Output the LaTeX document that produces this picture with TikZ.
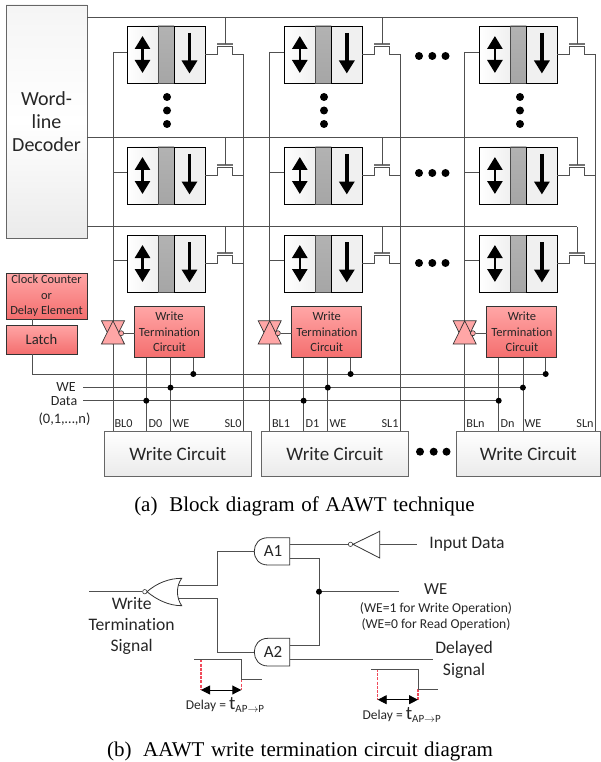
\documentclass[tikz,border=0pt]{standalone}
\usepackage{fontspec}
\setmainfont[Ligatures=NoCommon]{Carlito}
\newfontfamily\capfont{Liberation Serif}
\usetikzlibrary{arrows.meta, positioning, calc}
\definecolor{wireGray}{HTML}{505050}
\definecolor{pinkTop}{HTML}{FFA6A6}
\definecolor{pinkBot}{HTML}{F46E6E}
\definecolor{dashRed}{HTML}{F04A5A}
\tikzset{
    >=Stealth,
    % Colors
    compPink/.style={draw=black!80, line width=0.9pt, top color=pinkTop, bottom color=pinkBot},
    compWhite/.style={draw=black!60, line width=0.9pt, top color=white, bottom color=black!8},
    % Shapes
    base/.style={rectangle, inner sep=0pt, outer sep=0pt, align=center, text=black!85},
    cellL/.style={base, draw=black, line width=0.8pt, left color=white, right color=black!6,
                  minimum width=31pt, minimum height=57pt},
    cellM/.style={base, draw=black!70, line width=0.8pt, top color=black!30, bottom color=black!35,
                  minimum width=16pt, minimum height=57pt},
    cellR/.style={base, draw=black, line width=0.8pt, fill=black!6,
                  minimum width=31pt, minimum height=57pt},
    wtc/.style={base, compPink, minimum width=70pt, minimum height=51pt, font=\fontsize{12.5}{15.5}\selectfont},
    wc/.style={base, compWhite, minimum height=45.5pt, font=\fontsize{19}{22}\selectfont},
    gatebody/.style={draw=black!80, line width=0.8pt, fill=white},
    tgate/.style={draw=black!80, line width=0.7pt, fill=pinkTop},
    bubble/.style={circle, draw=black!80, line width=0.6pt, inner sep=0pt, minimum size=5pt},
    % Flow & Labels
    wire/.style={draw=wireGray, line width=0.8pt},
    bigdot/.style={circle, fill=black, inner sep=0pt, minimum size=8pt},
    junc/.style={circle, fill=black, inner sep=0pt, minimum size=6pt},
    sarrow/.style={line width=3.6pt, -{Triangle[width=15pt,length=13pt]}},
    darrow/.style={line width=2.6pt, {Triangle[width=15pt,length=13pt]}-{Triangle[width=15pt,length=13pt]}},
    delayarrow/.style={line width=0.9pt, {Triangle[width=9pt,length=9pt]}-{Triangle[width=9pt,length=9pt]}},
    reddash/.style={draw=dashRed, line width=1.3pt, dash pattern=on 3pt off 1.2pt},
    captext/.style={rectangle, inner sep=0pt, outer sep=0pt, font=\fontsize{21}{23}\capfont, text=black},
    lbl/.style={base, font=\fontsize{12.2}{14}\selectfont},
    big/.style={base, font=\fontsize{17.6}{22}\selectfont},
    note/.style={base, font=\fontsize{13.6}{16}\selectfont}
}
\newcommand{\delaytext}{\fontsize{13.5}{15}\selectfont Delay = {\fontsize{19}{20}\selectfont t}\raisebox{-3pt}{\fontsize{11}{11}\selectfont AP$\rightarrow$P}}
\newcommand{\capgap}{\hspace{0.31em}}
\begin{document}
\begin{tikzpicture}[x=1pt, y=-1pt]
\useasboundingbox (0,0) rectangle (600,762);

% Decoder and delay blocks
\node[base, compWhite, top color=black!4, bottom color=black!8, middle color=white, minimum width=81pt, minimum height=233pt, font=\fontsize{20}{23}\selectfont] (dec) at (46.5,121.5) {Word-\\line\\Decoder};
\node[base, compPink, minimum width=81pt, minimum height=46pt, font=\fontsize{12.4}{15.5}\selectfont] (clk) at (46.5,296) {Clock Counter\\or\\Delay Element};
\node[base, compPink, minimum width=71pt, minimum height=29pt, font=\fontsize{14.6}{16}\selectfont] (latch) at (41.5,339.5) {Latch};
\draw[wire] (clk.south -| 32,0) -- (latch.north -| 32,0);

% Word lines
\foreach \r/\wy in {0/17, 1/137, 2/226.5}
    \coordinate (wl\r) at (dec.east |- 0,\wy);

% Write circuits and bottom control lines
\node[wc, minimum width=146.5pt] (wc0) at (177.8,453.8) {Write Circuit};
\node[wc, minimum width=146.5pt] (wc1) at (334.8,453.8) {Write Circuit};
\node[wc, minimum width=143.3pt] (wc2) at (528.4,453.8) {Write Circuit};

\coordinate (latchturn) at (32,374);
\coordinate (weIn) at (83,387.6);
\coordinate (dataIn) at (83,400.7);

\draw[wire] (latch.south -| latchturn) -- (latchturn) -- (545.7,374);
\draw[wire] (weIn) -- (522.7,387.6);
\draw[wire] (dataIn) -- (499,400.7);

% One column of cells
\foreach \c/\cx/\blx/\slx in {0/127/113/243, 1/284.3/269.7/400.7, 2/479.4/464.7/595.7} {
    \foreach \r/\ry/\bly in {0/26/52, 1/147/172.5, 2/235/260.3} {
        \node[cellL, anchor=north west] (left\c\r) at (\cx,\ry) {};
        \node[cellM, right=0pt of left\c\r] (mid\c\r) {};
        \node[cellR, right=0pt of mid\c\r] (right\c\r) {};
        \draw[darrow] ([yshift=18.5pt]left\c\r.center) -- ([yshift=-18.5pt]left\c\r.center);
        \draw[sarrow] ([yshift=21.5pt]right\c\r.center) -- ([yshift=-19pt]right\c\r.center);
        % access transistor
        \coordinate (gate\c\r) at ($(right\c\r.north east)+(20,18)$);
        \draw[wire] (right\c\r.east) -- ++(12,0) -- ++(0,-8) -- ++(15,0) -- ++(0,8) -- (\slx,0 |- right\c\r.east);
        \draw[draw=black!55, line width=1.1pt] ($(gate\c\r)+(-8,0)$) -- ($(gate\c\r)+(8,0)$);
        \draw[wire] (left\c\r.west |- 0,\bly) -- (\blx,\bly);
        \draw[wire] (gate\c\r) -- (wl\r -| gate\c\r);
    }
    \draw[wire] (\blx,52) -- (wc\c.north -| \blx,0);
    \draw[wire] (\slx,0 |- right\c0.east) -- (wc\c.north -| \slx,0);
    % write termination block with its gate
    \node[wtc, anchor=north west] (term\c) at ($(left\c2.south west)+(7.5,14.6)$) {Write\\Termination\\Circuit};
    \draw[tgate] (\blx-11.5,320.8) -- (\blx+11.5,320.8) -- (\blx,344) -- cycle;
    \draw[tgate] (\blx,320.8) -- (\blx-11.5,344) -- (\blx+11.5,344) -- cycle;
    \node[bubble, fill=pinkTop] (tg\c) at (\blx+8.2,333.2) {};
    \draw[wire] (tg\c) -- (term\c.west |- tg\c);
    % tap points on the control lines
    \coordinate (dtap\c) at ($(term\c.south west)+(11.8,0)$);
    \coordinate (wtap\c) at ($(term\c.south west)+(36,0)$);
    \coordinate (ltap\c) at ($(term\c.south west)+(58.8,0)$);
    \draw[wire] (dtap\c) -- (wc\c.north -| dtap\c);
    \draw[wire] (wtap\c) -- (wc\c.north -| wtap\c);
    \draw[wire] (ltap\c) -- (ltap\c |- latchturn);
    \node[junc] (d\c) at (dtap\c |- dataIn) {};
    \node[junc] (w\c) at (wtap\c |- weIn) {};
    \node[junc] (l\c) at (ltap\c |- latchturn) {};
}
% Word lines across the array
\foreach \r in {0,1,2}
    \draw[wire] (wl\r) -- (wl\r -| gate2\r);

% Port labels
\node[lbl] (bl0lbl) at (123.5,424) {BL0};
\node[lbl] (d0lbl) at (155.5,424) {D0};
\node[lbl] (we0lbl) at (181,424) {WE};
\node[lbl] (sl0lbl) at (233,424) {SL0};
\node[lbl] (bl1lbl) at (281,424) {BL1};
\node[lbl] (d1lbl) at (312.5,424) {D1};
\node[lbl] (we1lbl) at (338,424) {WE};
\node[lbl] (sl1lbl) at (390,424) {SL1};
\node[lbl] (blnlbl) at (475.5,424) {BLn};
\node[lbl] (dnlbl) at (507.5,424) {Dn};
\node[lbl] (wenlbl) at (533,424) {WE};
\node[lbl] (snlbl) at (585,424) {SLn};

\node[base, font=\fontsize{14}{15}\selectfont] (welbl) at (66,387.5) {WE};
\node[base, font=\fontsize{14}{15}\selectfont] (datalbl) at (64,401) {Data};
\node[base, font=\fontsize{14.5}{16}\selectfont] (nlbl) at (64.5,419) {(0,1,…,n)};

% Ellipsis dots
\foreach \c/\dx in {0/167, 1/324, 2/520}
    \foreach \n/\dy in {0/97, 1/110.5, 2/124}
        \node[bigdot] (vd\c\n) at (\dx,\dy) {};
\foreach \r/\dy in {0/56, 1/173, 2/263}
    \foreach \n/\dx in {0/419, 1/432.3, 2/445.5}
        \node[bigdot] (hd\r\n) at (\dx,\dy) {};
\foreach \n/\dx in {0/420, 1/433.7, 2/446.5}
    \node[bigdot] (bd\n) at (\dx,451.7) {};

% Caption (a)
\node[captext] (capa) at (304.5,506) {(a)\capgap\ Block\capgap diagram\capgap of\capgap AAWT\capgap technique};

% Termination circuit
\coordinate (a1in) at (254.3,551.3);
\coordinate (a2in) at (254.3,652);
\coordinate (a1out) at (289.7,544.3);
\coordinate (a2out) at (289.7,659.3);
\coordinate (wejoin) at (319,591.7);
\coordinate (orup) at (178,585);
\coordinate (ordown) at (178,598.3);

\draw[wire] (orup) -- (217.7,585) -- (217.7,551.3) -- (a1in);
\draw[wire] (ordown) -- (217.7,598.3) -- (217.7,652) -- (a2in);
\draw[gatebody] (181.7,578.3) .. controls (176,586) and (176,597.5) .. (181.7,605.7)
    .. controls (169,605.7) and (157,600) .. (147,591.7)
    .. controls (157,583) and (169,578.3) .. (181.7,578.3) -- cycle;
\node[bubble, minimum size=4.4pt, fill=white] (norbub) at (144.8,591.7) {};
\coordinate (norin) at (89,591.7);
\draw[wire] (norin) -- (norbub);

\draw[gatebody] (289.7,537.7) -- (268,537.7) .. controls (259,537.7) and (254.3,544) .. (254.3,551.3)
    .. controls (254.3,558.7) and (259,565) .. (268,565) -- (289.7,565) -- cycle;
\draw[gatebody] (289.7,638.3) -- (268,638.3) .. controls (259,638.3) and (254.3,645) .. (254.3,652)
    .. controls (254.3,659.3) and (259,666) .. (268,666) -- (289.7,666) -- cycle;
\node[base, font=\fontsize{17}{20}\selectfont] (a1) at (273,551.3) {A1};
\node[base, font=\fontsize{17}{20}\selectfont] (a2) at (273,652.3) {A2};

\node[bubble, minimum size=4.4pt, fill=white] (invbub) at (350.5,544.3) {};
\draw[gatebody] (353,544.3) -- (379.7,531.3) -- (379.7,558) -- cycle;
\coordinate (invin) at (416.7,544.3);
\draw[wire] (a1out) -- (invbub);
\draw[wire] (invin) -- (379.7,544.3);

\draw[wire, line width=1pt] (289.7,558) -- (319,558) -- (319,645.7) -- (289.7,645.7);
\node[junc] (wedot) at (wejoin) {};
\coordinate (weout) at (399.3,591.7);
\draw[wire] (wedot) -- (weout);
\coordinate (delayout) at (433.3,659.3);
\draw[wire] (a2out) -- (delayout);

% Labels of the circuit
\node[base, font=\fontsize{17.6}{22}\selectfont] (inlbl) at (467,544.5) {Input Data};
\node[base, font=\fontsize{16.8}{20}\selectfont] (welbl2) at (435.7,589) {WE};
\node[note] (we1) at (436,609) {(WE=1 for Write Operation)};
\node[note] (we2) at (436,625) {(WE=0 for Read Operation)};
\node[big] (dellbl) at (464,660) {Delayed\\Signal};
\node[base, font=\fontsize{17.6}{21}\selectfont] (termlbl) at (131.7,626) {Write\\Termination\\Signal};

% Delay pulses
\foreach \p/\px/\py in {0/194.3/659.3, 1/371/669} {
    \coordinate (ptop\p) at (\px,\py);
    \coordinate (pfall\p) at (\px+47,\py);
    \coordinate (plow\p) at (\px+47,\py+20);
    \coordinate (pend\p) at (\px+67.4,\py+20);
    \coordinate (pa\p) at (\px+6.7,\py+30.7);
    \coordinate (pb\p) at (\px+47,\py+30.7);
    \draw[reddash] (ptop\p -| pa\p) -- (pa\p);
    \draw[reddash] (plow\p) -- (pb\p);
    \draw[wire] (ptop\p) -- (pfall\p) -- (plow\p) -- (pend\p);
    \draw[delayarrow] (pa\p) -- (pb\p);
    \node[base] (dlabel\p) at ($(pa\p)+(24,15)$) {\delaytext};
}

% Caption (b)
\node[captext] (capb) at (300,751) {(b)\capgap\ AAWT\capgap write\capgap termination\capgap circuit\capgap diagram};

\end{tikzpicture}
\end{document}
